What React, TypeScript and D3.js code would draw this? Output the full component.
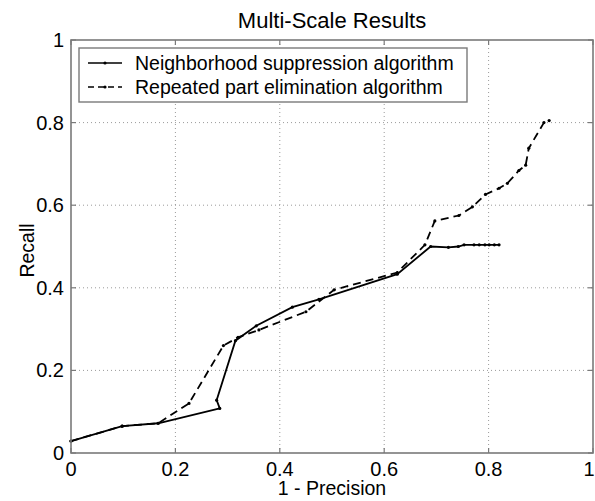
import React from "react";
import * as d3 from "d3";

const width = 595;
const height = 501;
const margin = { top: 40, right: 2, bottom: 48, left: 71 };

const ticks = [0, 0.2, 0.4, 0.6, 0.8, 1];
const tickLabels = ["0", "0.2", "0.4", "0.6", "0.8", "1"];

// Neighborhood suppression algorithm
const nsX = [0, 0.098, 0.167, 0.285, 0.279, 0.315, 0.355, 0.424, 0.475, 0.625, 0.689, 0.723, 0.742, 0.753, 0.772, 0.782, 0.793, 0.801, 0.811, 0.82];
const nsY = [0.029, 0.065, 0.072, 0.108, 0.128, 0.272, 0.308, 0.353, 0.372, 0.433, 0.5, 0.498, 0.5, 0.504, 0.504, 0.504, 0.504, 0.504, 0.504, 0.504];

// Repeated part elimination algorithm
const rpX = [0, 0.098, 0.167, 0.226, 0.292, 0.32, 0.36, 0.45, 0.504, 0.625, 0.678, 0.697, 0.743, 0.769, 0.794, 0.82, 0.836, 0.858, 0.871, 0.877, 0.906, 0.916];
const rpY = [0.029, 0.065, 0.072, 0.12, 0.26, 0.28, 0.298, 0.342, 0.395, 0.437, 0.504, 0.562, 0.575, 0.596, 0.626, 0.641, 0.653, 0.684, 0.697, 0.738, 0.8, 0.805];

const seriesNames = ["Neighborhood suppression algorithm", "Repeated part elimination algorithm"];

const font = "'Liberation Sans', Arial, sans-serif";
const axisColor = "#7a7a7a";

export default function App() {
  const x = d3.scaleLinear().domain([0, 1]).range([margin.left, width - margin.right]);
  const y = d3.scaleLinear().domain([0, 1]).range([height - margin.bottom, margin.top]);
  const line = d3
    .line<[number, number]>()
    .x((d) => x(d[0]))
    .y((d) => y(d[1]));

  const series = [
    { pts: nsX.map((v, i) => [v, nsY[i]] as [number, number]), dash: undefined },
    { pts: rpX.map((v, i) => [v, rpY[i]] as [number, number]), dash: "8,5" },
  ];

  const x0 = x(0), x1 = x(1), y0 = y(0), y1 = y(1);

  return (
    <svg width={width} height={height} style={{ position: "absolute", left: 0, top: 0, background: "#fff" }} fontFamily={font}>
      {/* grid */}
      <g stroke="#9a9a9a" strokeWidth={1} strokeDasharray="1,3">
        {ticks.slice(1, -1).map((t) => (
          <line key={"gx" + t} x1={x(t)} x2={x(t)} y1={y1} y2={y0} />
        ))}
        {ticks.slice(1, -1).map((t) => (
          <line key={"gy" + t} x1={x0} x2={x1} y1={y(t)} y2={y(t)} />
        ))}
      </g>

      {/* data */}
      {series.map((s, i) => (
        <g key={i}>
          <path d={line(s.pts) || ""} fill="none" stroke="#000" strokeWidth={1.8} strokeDasharray={s.dash} />
          {s.pts.map((p, j) => (
            <circle key={j} cx={x(p[0])} cy={y(p[1])} r={1.6} fill="#000" />
          ))}
        </g>
      ))}

      {/* axes box and ticks */}
      <rect x={x0} y={y1} width={x1 - x0} height={y0 - y1} fill="none" stroke={axisColor} strokeWidth={1.6} />
      <g stroke={axisColor} strokeWidth={1.2}>
        {ticks.map((t) => (
          <g key={"t" + t}>
            <line x1={x(t)} x2={x(t)} y1={y0} y2={y0 - 5} />
            <line x1={x(t)} x2={x(t)} y1={y1} y2={y1 + 5} />
            <line x1={x0} x2={x0 + 5} y1={y(t)} y2={y(t)} />
            <line x1={x1} x2={x1 - 5} y1={y(t)} y2={y(t)} />
          </g>
        ))}
      </g>

      {/* tick labels */}
      <g fontSize={20} fill="#000">
        {ticks.map((t, i) => (
          <text key={"xl" + t} x={x(t) - (t === 1 ? 4 : 0)} y={y0 + 23} textAnchor="middle">
            {tickLabels[i]}
          </text>
        ))}
        {ticks.map((t, i) => (
          <text key={"yl" + t} x={x0 - 7} y={y(t) + 7} textAnchor="end">
            {tickLabels[i]}
          </text>
        ))}
      </g>

      {/* legend */}
      <rect x={79} y={48} width={388} height={54} fill="#fff" stroke={axisColor} strokeWidth={1.4} />
      {series.map((s, i) => {
        const ly = 63 + i * 24;
        return (
          <g key={"lg" + i}>
            <line x1={88} x2={122} y1={ly} y2={ly} stroke="#000" strokeWidth={1.6} strokeDasharray={s.dash ? "6,4" : undefined} />
            <circle cx={105} cy={ly} r={1.6} fill="#000" />
            <text x={135} y={ly + 7} fontSize={19.5}>
              {seriesNames[i]}
            </text>
          </g>
        );
      })}

      {/* titles */}
      <text x={(x0 + x1) / 2} y={28} textAnchor="middle" fontSize={22}>
        Multi-Scale Results
      </text>
      <text x={(x0 + x1) / 2} y={495} textAnchor="middle" fontSize={19.5}>
        1 - Precision
      </text>
      <text transform={`translate(34,${(y0 + y1) / 2 + 4}) rotate(-90)`} textAnchor="middle" fontSize={19.5}>
        Recall
      </text>
    </svg>
  );
}
